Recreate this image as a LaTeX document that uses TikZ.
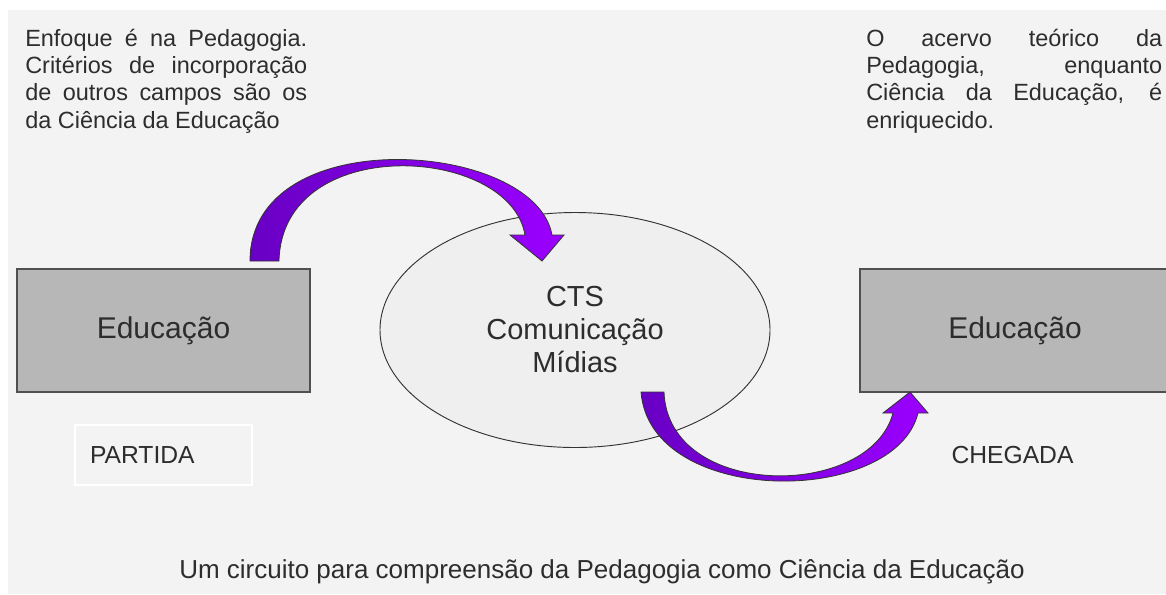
\documentclass[tikz,border=0pt]{standalone}
\usepackage{fontspec}
\setmainfont{Liberation Sans}
\usetikzlibrary{shapes.geometric,calc}
\definecolor{bggray}{RGB}{243,243,243}
\definecolor{boxgray}{RGB}{183,183,183}
\definecolor{boxline}{RGB}{80,80,80}
\definecolor{ellfill}{RGB}{239,239,239}
\definecolor{txtgray}{RGB}{45,45,45}
\definecolor{arrowdark}{RGB}{104,0,196}
\definecolor{arrowlight}{RGB}{155,0,255}

\begin{document}
\begin{tikzpicture}[
    x=0.75pt, y=-0.75pt,
    edubox/.style={
      draw=boxline, fill=boxgray, line width=1.2pt, inner sep=0pt,
      minimum height=92.25pt, text=txtgray,
      font=\fontsize{22.5}{26}\selectfont
    },
    midell/.style={
      ellipse, draw=black!80, fill=ellfill, line width=0.7pt,
      inner sep=0pt, minimum width=292.5pt, minimum height=176.25pt,
      align=center, text=txtgray,
      font=\fontsize{21.75}{24.75}\selectfont
    },
    para/.style={
      anchor=base west, inner sep=0pt, align=justify, text=txtgray,
      font=\fontsize{17.6}{20.6}\selectfont
    },
    lbl/.style={text=txtgray, inner sep=0pt,
      font=\fontsize{18.5}{22}\selectfont},
    bandarrow/.style={
      draw=black!80, line width=0.6pt,
      left color=arrowdark, right color=arrowlight
    },
  ]

  % canvas
  \useasboundingbox (0,0) rectangle (1166,594);
  \fill[white] (0,0) rectangle (1166,594);
  \fill[bggray] (8,10) rectangle (1166,594);

  % top texts
  \node[para, text width=211.5pt] (txtL) at (25,46)
    {Enfoque é na Pedagogia.\linebreak
     Critérios de incorporação\linebreak
     de outros campos são os\linebreak
     da Ciência da Educação};
  \node[para, text width=222pt] (txtR) at (866,46)
    {O acervo teórico da\linebreak
     Pedagogia, enquanto\linebreak
     Ciência da Educação, é\linebreak
     enriquecido.};

  % --- boxes and ellipse ---
  \node[edubox, minimum width=219.75pt] (eduL) at (163.5,330.5) {Educação};
  \node[midell] (cts) at (575,330) {CTS\\Comunicação\\Mídias};
  \begin{scope}
    \clip (0,0) rectangle (1166,594);
    \node[edubox, minimum width=232.5pt] (eduR) at (1015,330.5) {Educação};
  \end{scope}

  % --- labels ---
  \node[lbl, draw=white, line width=0.8pt, minimum width=132.75pt,
        minimum height=45pt, inner xsep=11.25pt, text width=110.25pt,
        align=left] (partida) at (163.5,455) {PARTIDA};
  \node[lbl] (chegada) at (1012.5,455) {CHEGADA};

  % --- curved arrows ---
  \path[bandarrow] (250,261)
      .. controls (250,120) and (535,140) .. (552,235)
      -- (564,235) -- (542,261) -- (510,235) -- (525,235)
      .. controls (510,145) and (282,132) .. (279,261) -- cycle;
  \path[bandarrow] (641,392)
      .. controls (650,507) and (895,507) .. (918,413)
      -- (928,413) -- (910,392) -- (883,413) -- (893,413)
      .. controls (870,500) and (668,500) .. (664,392) -- cycle;

  % caption
  \node[lbl, font=\fontsize{19.5}{23}\selectfont] (caption) at (602,572)
    {Um circuito para compreensão da Pedagogia como Ciência da Educação};

\end{tikzpicture}
\end{document}
